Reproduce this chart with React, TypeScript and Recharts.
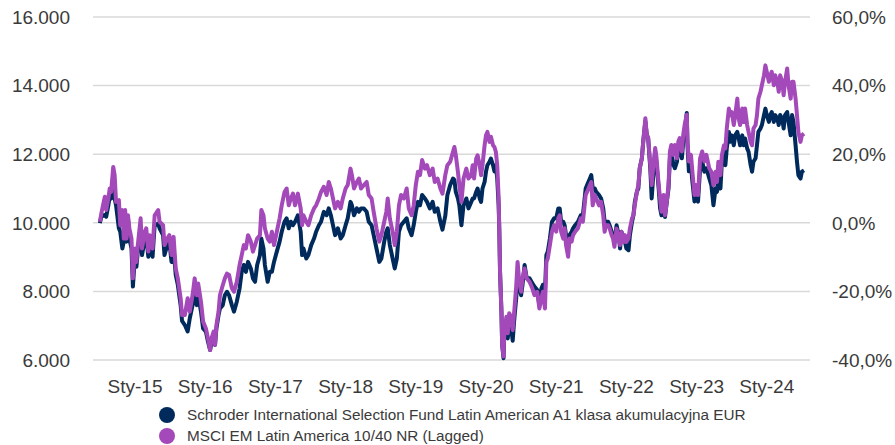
import React from "react";
import { LineChart, Line, XAxis, YAxis, CartesianGrid, Legend } from "recharts";

// Fractional year of each observation
const dates = [
  2014.50, 2014.52, 2014.57, 2014.59, 2014.62, 2014.64, 2014.66, 2014.69, 2014.71, 2014.73,
  2014.77, 2014.79, 2014.82, 2014.84, 2014.86, 2014.88, 2014.90, 2014.92, 2014.95, 2014.97,
  2015.00, 2015.02, 2015.04, 2015.08, 2015.10, 2015.14, 2015.16, 2015.19, 2015.21, 2015.25,
  2015.28, 2015.33, 2015.35, 2015.40, 2015.42, 2015.46, 2015.49, 2015.52, 2015.55, 2015.58,
  2015.61, 2015.65, 2015.67,
  2015.71, 2015.75, 2015.78, 2015.82, 2015.85, 2015.88, 2015.90, 2015.94, 2015.97, 2016.01,
  2016.04, 2016.07, 2016.09, 2016.12, 2016.14, 2016.16, 2016.19, 2016.21, 2016.25, 2016.28,
  2016.31, 2016.34, 2016.38, 2016.41, 2016.45, 2016.49, 2016.52, 2016.55, 2016.58, 2016.61,
  2016.65, 2016.68, 2016.71, 2016.74, 2016.78, 2016.80, 2016.83, 2016.85, 2016.89,
  2016.92, 2016.95, 2016.98, 2017.02, 2017.06, 2017.09, 2017.13, 2017.16, 2017.19, 2017.22,
  2017.25, 2017.28, 2017.32, 2017.36, 2017.38, 2017.40, 2017.44, 2017.47, 2017.51, 2017.55,
  2017.58, 2017.62, 2017.65, 2017.69, 2017.73, 2017.76, 2017.79, 2017.82, 2017.85, 2017.89,
  2017.93, 2017.96, 2018.00, 2018.03, 2018.07, 2018.09, 2018.12,
  2018.16, 2018.19, 2018.22, 2018.26, 2018.30, 2018.33, 2018.37, 2018.40, 2018.44, 2018.48,
  2018.51, 2018.55, 2018.58, 2018.60, 2018.63, 2018.67, 2018.70, 2018.73, 2018.76, 2018.79,
  2018.83, 2018.87, 2018.90, 2018.94, 2018.97, 2019.00, 2019.03, 2019.06, 2019.09, 2019.13,
  2019.16, 2019.20, 2019.24, 2019.27, 2019.31, 2019.35,
  2019.38, 2019.42, 2019.45, 2019.49, 2019.53, 2019.55, 2019.57, 2019.60, 2019.62, 2019.65,
  2019.68, 2019.72, 2019.75, 2019.79, 2019.81, 2019.83, 2019.86, 2019.88, 2019.91, 2019.93,
  2019.95, 2019.98, 2020.00, 2020.02, 2020.05, 2020.07, 2020.10, 2020.12, 2020.14, 2020.16,
  2020.18, 2020.19, 2020.20, 2020.22, 2020.23, 2020.25, 2020.26, 2020.29, 2020.31, 2020.33,
  2020.36, 2020.38, 2020.40, 2020.43, 2020.45, 2020.47, 2020.50, 2020.52, 2020.55, 2020.58,
  2020.62, 2020.66, 2020.69, 2020.73, 2020.76, 2020.79, 2020.81, 2020.84, 2020.86, 2020.88,
  2020.91, 2020.94, 2020.97, 2021.00, 2021.03, 2021.05, 2021.07, 2021.10, 2021.12, 2021.14,
  2021.17, 2021.19, 2021.22, 2021.24, 2021.27, 2021.31, 2021.35, 2021.38, 2021.42, 2021.44,
  2021.48, 2021.50, 2021.52, 2021.55, 2021.57, 2021.61, 2021.64, 2021.67, 2021.69, 2021.71,
  2021.74, 2021.76, 2021.79, 2021.81, 2021.83,
  2021.86, 2021.89, 2021.91, 2021.93, 2021.96, 2021.98, 2022.00, 2022.03, 2022.05, 2022.08,
  2022.10, 2022.12, 2022.15, 2022.17, 2022.19, 2022.22, 2022.24, 2022.27, 2022.29, 2022.31,
  2022.34, 2022.36, 2022.38, 2022.41, 2022.43, 2022.46, 2022.48, 2022.50, 2022.53, 2022.55,
  2022.57, 2022.60, 2022.62, 2022.64, 2022.67, 2022.69, 2022.72, 2022.74, 2022.76, 2022.79,
  2022.81, 2022.83, 2022.86, 2022.87, 2022.89, 2022.92, 2022.94, 2022.97, 2022.99, 2023.02,
  2023.05, 2023.08, 2023.11, 2023.14, 2023.18, 2023.21,
  2023.24, 2023.27, 2023.29, 2023.31, 2023.34, 2023.36, 2023.39, 2023.41, 2023.43, 2023.46,
  2023.48, 2023.50, 2023.53, 2023.55, 2023.58, 2023.60, 2023.62, 2023.65, 2023.67, 2023.69,
  2023.72, 2023.74, 2023.77, 2023.79, 2023.81, 2023.84, 2023.86, 2023.88, 2023.91, 2023.93,
  2023.96, 2023.98, 2024.00, 2024.03, 2024.05, 2024.07, 2024.10, 2024.12, 2024.15, 2024.17,
  2024.19, 2024.22, 2024.24, 2024.26, 2024.29, 2024.31, 2024.34, 2024.36, 2024.38, 2024.41,
  2024.43, 2024.45, 2024.48, 2024.50, 2024.53,
];

// Schroder ISF Latin American A1 (navy)
const fundValues = [
  9990, 10180, 10230, 10180, 10510, 10760, 10710, 11300, 10710, 10510,
  9840, 9740, 9250, 9450, 9640, 9450, 10130, 9540, 9250, 8140,
  9060, 8720, 9160, 9840, 9060, 9540, 9590, 9010, 9450, 9010,
  9930, 9980, 9840, 9640, 9060, 9350, 9450, 8860, 9250, 8480,
  8190, 7600, 7140,
  7020, 6830, 7210, 7600, 7890, 7600, 7890, 7410, 6920, 6830,
  6530, 6290, 6530, 6730, 6440, 6920, 7310, 7500, 7600, 7890,
  7990, 7890, 7600, 7410, 7700, 8090, 8570, 8770, 8570, 8860,
  8670, 8380, 8280, 8770, 9060, 9540, 9250, 8770, 8280,
  8570, 8570, 8860, 9160, 9450, 9740, 10030, 10130, 9840, 10030,
  9930, 10030, 10220, 9740, 9060, 9250, 8960, 9060, 9350, 9540,
  9740, 9930, 10030, 10320, 10220, 10420, 10220, 9930, 9640, 9840,
  9540, 9640, 9930, 10130, 10610, 10510, 10220,
  10420, 10320, 10420, 10420, 10320, 10030, 9930, 9640, 9250, 8860,
  8960, 9450, 9740, 9840, 9350, 8960, 8670, 8960, 9740, 9930,
  10030, 10130, 9840, 9640, 9930, 10320, 10610, 10510, 10810, 10710,
  10610, 10420, 10610, 10320, 10420, 10030,
  9800, 10200, 10810, 11100, 11290, 11250, 10900, 10710, 10510, 9930,
  10510, 10710, 10420, 10610, 10710, 10710, 10900, 11000, 10710, 10610,
  11000, 11190, 11490, 11680, 11780, 11870, 11680, 11500, 11680, 11290,
  10510, 9740, 8570, 7410, 6440, 6050, 6730, 7020, 6630, 7020,
  6920, 6560, 7120, 7800, 8380, 8190, 7890, 8190, 8770, 8380,
  8380, 8240, 8140, 8040, 7600, 8090, 8190, 7990, 9060, 9160,
  9540, 10030, 10130, 10130, 10420, 10420, 10030, 10030, 9930, 9640,
  9250, 9640, 9740, 9840, 9930, 10030, 10220, 10220, 11000, 11100,
  11290, 11390, 11000, 11000, 10900, 10810, 10710, 10420, 10030, 10030,
  10030, 9930, 9740, 9640, 9450,
  9930, 9640, 9250, 9740, 9540, 9440, 9250, 9200, 9640, 10030,
  10220, 10610, 10910, 11000, 11590, 11880, 12370, 12960, 12570, 12470,
  11590, 10710, 11300, 12080, 11690, 11000, 10420, 10220, 10710, 10170,
  10520, 11000, 11880, 12080, 11690, 11590, 11780, 12180, 12270, 11880,
  12370, 12660, 13200, 12270, 11500, 11690, 11200, 10620, 10710, 10620,
  11590, 11790, 11490, 11590, 11300, 11100,
  10510, 11000, 10900, 11390, 11000, 11780, 12070, 11680, 12170, 12650,
  12360, 12550, 12260, 12550, 12650, 12460, 12260, 12550, 12260, 12460,
  12170, 12070, 11680, 11490, 11780, 11880, 12260, 12650, 12750, 12850,
  13140, 13330, 13140, 12940, 13140, 13230, 12940, 13140, 13040, 12850,
  13140, 13040, 12750, 13140, 13230, 12940, 12550, 13140, 12940, 12260,
  11780, 11390, 11290, 11490, 11530,
];

// MSCI EM Latin America 10/40 NR (Lagged) (purple)
const indexValues = [
  10030, 10270, 10760, 10370, 10710, 11000, 10900, 11630, 11390, 10610,
  10660, 9930, 10370, 9540, 10370, 9540, 10220, 9840, 9540, 8380,
  9250, 8860, 9350, 10130, 9250, 9740, 9840, 9160, 9640, 9250,
  10220, 10370, 10030, 9930, 9350, 9540, 9640, 9060, 9590, 8670,
  8380, 7800, 7310,
  7310, 7800, 7410, 7890, 8380, 7890, 8230, 7700, 7120, 6920,
  6630, 6290, 6630, 6830, 6440, 7020, 7410, 7890, 8180, 8380,
  8520, 8480, 8090, 7990, 8280, 8770, 9060, 9350, 9250, 9640,
  9450, 9160, 9350, 9540, 9640, 10370, 10220, 9840, 9540,
  9450, 9740, 9350, 9740, 10130, 10510, 10900, 11000, 10510, 10710,
  10850, 10510, 10850, 10420, 9930, 10220, 10030, 9930, 10220, 10420,
  10510, 10710, 10900, 11050, 10810, 11190, 11000, 10710, 10420, 10610,
  10420, 10710, 11000, 11100, 11580, 11390, 11000,
  11190, 11290, 11000, 11100, 11190, 10810, 10710, 10320, 9840, 9450,
  9640, 10030, 10320, 10710, 10130, 9740, 9350, 9740, 10510, 10810,
  10710, 11000, 10420, 10220, 10510, 11100, 11490, 11390, 11830, 11580,
  11680, 11390, 11580, 11190, 11290, 11000,
  10850, 11390, 11680, 11780, 12070, 12210, 11970, 11490, 11100, 10610,
  11290, 11580, 11290, 11390, 11680, 11290, 11870, 11970, 11680, 11390,
  11680, 12260, 12550, 12650, 12360, 12510, 12260, 12210, 12070, 11680,
  10710, 9740, 8570, 7410, 6440, 6100, 6780, 7260, 6780, 7360,
  7260, 6870, 7360, 8140, 8860, 8380, 7990, 8380, 8670, 8380,
  8280, 8090, 7890, 7990, 7500, 7800, 7990, 7500, 8860, 8960,
  9350, 9740, 9930, 9740, 10130, 10220, 9740, 9540, 9840, 9350,
  9010, 9540, 9450, 9640, 9740, 9840, 10130, 10030, 10810, 10900,
  11100, 11190, 10510, 10810, 10710, 10510, 10610, 10220, 9740, 9930,
  9930, 9840, 9640, 9540, 9300,
  9830, 9540, 9350, 9740, 9440, 9640, 9440, 9540, 9830, 10130,
  10220, 10520, 10910, 11100, 11590, 11880, 12370, 13050, 12570, 12470,
  11690, 11100, 11590, 12180, 11880, 11100, 10710, 10320, 10810, 10220,
  10520, 11100, 12080, 12270, 11980, 12270, 11880, 12370, 12470, 12080,
  12570, 12860, 13150, 12370, 11790, 11980, 11490, 10810, 11100, 10810,
  11880, 12080, 11790, 11980, 11590, 11490,
  11100, 11490, 11190, 11780, 11390, 11970, 12260, 12170, 12750, 13330,
  13140, 13230, 12850, 13140, 13620, 13040, 12850, 13330, 12940, 13330,
  12850, 12650, 12360, 12260, 12750, 12850, 13140, 13620, 13820, 14010,
  14300, 14590, 14400, 14110, 14300, 14400, 14010, 14300, 14110, 13820,
  14300, 14110, 13720, 14110, 14500, 14010, 13620, 14110, 14110, 13620,
  13140, 12650, 12360, 12550, 12600,
];

const seriesNames = [
  "Schroder International Selection Fund Latin American A1 klasa akumulacyjna EUR",
  "MSCI EM Latin America 10/40 NR (Lagged)",
];
const seriesColors = ["#002a5c", "#a449b9"];

const yearTicks = [2015, 2016, 2017, 2018, 2019, 2020, 2021, 2022, 2023, 2024];
const leftTicks = [6000, 8000, 10000, 12000, 14000, 16000];
const rightTicks = [-40, -20, 0, 20, 40, 60];

const data = dates.map((t, i) => ({ t, fund: fundValues[i], index: indexValues[i] }));

const FONT = "'Liberation Sans', Arial, sans-serif";
const TEXT = "#3a3a3a";

const fmtThousands = (v: number) => {
  const s = String(Math.round(v));
  return s.replace(/\B(?=(\d{3})+(?!\d))/g, ".");
};
const fmtPct = (v: number) => `${v.toFixed(1).replace(".", ",")}%`;
const fmtYear = (v: number) => `Sty-${String(Math.round(v)).slice(2)}`;

const renderLegend = () => (
  <div style={{ position: "relative", width: 895, height: 45, fontFamily: FONT, fontSize: 15.3, color: TEXT }}>
    {seriesNames.map((name, i) => (
      <div
        key={name}
        style={{
          position: "absolute",
          left: 159,
          top: 6 + i * 21,
          height: 18,
          display: "flex",
          alignItems: "center",
          whiteSpace: "nowrap",
        }}
      >
        <span
          style={{
            display: "inline-block",
            width: 16,
            height: 16,
            borderRadius: "50%",
            background: seriesColors[i],
            marginRight: 12,
          }}
        />
        <span>{name}</span>
      </div>
    ))}
  </div>
);

export default function App() {
  return (
    <div style={{ width: 895, height: 445, background: "#fff" }}>
      <style>{`body{margin:0;}`}</style>
      <LineChart width={895} height={445} data={data} margin={{ top: 17, right: 0, bottom: 0, left: 0 }}>
        <CartesianGrid yAxisId="left" vertical={false} stroke="#d9d9d9" strokeWidth={1.5} />
        <XAxis
          dataKey="t"
          type="number"
          domain={[2014.4017, 2024.6154]}
          ticks={yearTicks}
          tickFormatter={fmtYear}
          axisLine={false}
          tickLine={false}
          tickMargin={14}
          height={40}
          interval={0}
          tick={{ fill: TEXT, fontSize: 19, fontFamily: FONT }}
        />
        <YAxis
          yAxisId="left"
          orientation="left"
          type="number"
          domain={[6000, 16000]}
          ticks={leftTicks}
          tickFormatter={fmtThousands}
          axisLine={false}
          tickLine={false}
          tickMargin={17}
          width={93}
          interval={0}
          tick={{ fill: TEXT, fontSize: 19, fontFamily: FONT }}
        />
        <YAxis
          yAxisId="right"
          orientation="right"
          type="number"
          domain={[-40, 60]}
          ticks={rightTicks}
          tickFormatter={fmtPct}
          axisLine={false}
          tickLine={false}
          tickMargin={16}
          width={85}
          interval={0}
          allowDataOverflow
          tick={{ fill: TEXT, fontSize: 19, fontFamily: FONT, textAnchor: "start" }}
        />
        <Legend verticalAlign="bottom" height={45} content={renderLegend} />
        <Line
          yAxisId="left"
          dataKey="fund"
          name={seriesNames[0]}
          stroke={seriesColors[0]}
          strokeWidth={4}
          dot={false}
          type="linear"
          strokeLinejoin="round"
          isAnimationActive={false}
        />
        <Line
          yAxisId="left"
          dataKey="index"
          name={seriesNames[1]}
          stroke={seriesColors[1]}
          strokeWidth={4}
          dot={false}
          type="linear"
          strokeLinejoin="round"
          isAnimationActive={false}
        />
      </LineChart>
    </div>
  );
}
